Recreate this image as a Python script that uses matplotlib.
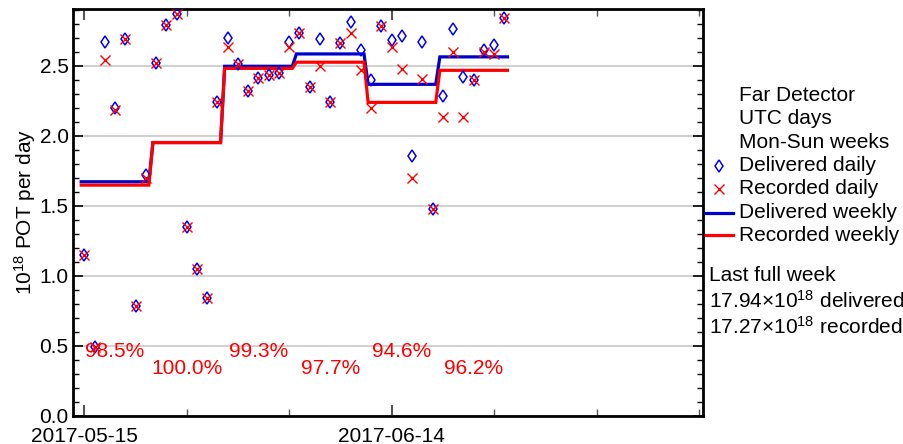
import numpy as np
import matplotlib
matplotlib.use("Agg")
import matplotlib.pyplot as plt
import matplotlib.dates as mdates
from matplotlib.lines import Line2D

plt.rcParams['font.family'] = ['Liberation Sans', 'DejaVu Sans']
plt.rcParams['mathtext.fontset'] = 'custom'
plt.rcParams['mathtext.rm'] = 'Liberation Sans'
plt.rcParams['mathtext.it'] = 'Liberation Sans:italic'
plt.rcParams['mathtext.bf'] = 'Liberation Sans:bold'

# ---- data ----
start_date = "2017-05-15"
end_date = "2017-06-26"   # exclusive
delivered_daily = [1.15, 0.49, 2.67, 2.20, 2.69, 0.78, 1.72,
                   2.52, 2.79, 2.87, 1.35, 1.05, 0.84, 2.24,
                   2.70, 2.51, 2.32, 2.41, 2.43, 2.45, 2.67,
                   2.73, 2.345, 2.69, 2.24, 2.66, 2.81, 2.61,
                   2.40, 2.78, 2.68, 2.71, 1.855, 2.67, 1.475,
                   2.28, 2.76, 2.42, 2.40, 2.61, 2.65, 2.84]
recorded_daily = [1.15, 0.49, 2.54, 2.18, 2.69, 0.78, 1.70,
                  2.52, 2.79, 2.87, 1.35, 1.05, 0.84, 2.24,
                  2.63, 2.51, 2.32, 2.41, 2.43, 2.45, 2.63,
                  2.73, 2.345, 2.50, 2.24, 2.66, 2.736, 2.47,
                  2.20, 2.78, 2.63, 2.475, 1.70, 2.405, 1.475,
                  2.136, 2.60, 2.136, 2.40, 2.60, 2.58, 2.84]
week_starts = ["2017-05-15", "2017-05-22", "2017-05-29",
               "2017-06-05", "2017-06-12", "2017-06-19"]
delivered_weekly = [1.671, 1.951, 2.496, 2.584, 2.367, 2.563]
recorded_weekly = [1.647, 1.951, 2.481, 2.525, 2.238, 2.467]
week_pct = ["98.5%", "100.0%", "99.3%", "97.7%", "94.6%", "96.2%"]
labelled_dates = ["2017-05-15", "2017-06-14"]
legend_title = ["Far Detector", "UTC days", "Mon-Sun weeks"]
summary = ["Last full week",
           r"17.94$\times$10$^{18}$ delivered",
           r"17.27$\times$10$^{18}$ recorded"]

BLUE_PT = '#0000ee'
BLUE_LN = '#0000cc'
RED = '#ff0000'
DIA_MS = 6.2
X_MS = 7.5

W, H = 904, 444
fig = plt.figure(figsize=(W / 100, H / 100), dpi=100)
ax_l, ax_r, ax_t, ax_b = 72.7, 703.0, 9.0, 415.7
ax = fig.add_axes([ax_l / W, 1 - ax_b / H, (ax_r - ax_l) / W, (ax_b - ax_t) / H])

def dnum(d):
    return mdates.date2num(np.datetime64(d, 's').astype(object))

days = np.arange(start_date, end_date, dtype='datetime64[D]')
xd = [dnum(str(d)) for d in days]
x0 = dnum(start_date)

# weekly step lines
def weekly_xy(vals):
    xs, ys = [], []
    for ws, v in zip(week_starts, vals):
        s = dnum(ws)
        xs += [s - 0.3, s + 6.3]
        ys += [v, v]
    return xs, ys

bx, by = weekly_xy(delivered_weekly)
rx, ry = weekly_xy(recorded_weekly)
ax.plot(bx, by, color=BLUE_LN, lw=2.3, zorder=3, solid_joinstyle='miter')
ax.plot(rx, ry, color=RED, lw=2.3, zorder=3.1, solid_joinstyle='miter')

ax.plot(xd, delivered_daily, linestyle='none', marker='d', ms=DIA_MS,
        mfc='none', mec=BLUE_PT, mew=1.1, zorder=4)
ax.plot(xd, recorded_daily, linestyle='none', marker='x', ms=X_MS,
        mec=RED, mew=1.0, zorder=5)

# weekly percentage labels
for i, (ws, p) in enumerate(zip(week_starts, week_pct)):
    s = dnum(ws)
    yb = 0.417 if i % 2 == 0 else 0.298
    ax.text(s + 3, yb, p, color=RED, fontsize=15, ha='center', va='baseline', zorder=6)

# axes
ax.set_ylim(0, 2.905)
ax.set_xlim(x0 - 1.13, x0 + 60.38)
ax.set_yticks(np.arange(0, 2.51, 0.5))
ax.set_yticklabels([f"{v:.1f}" for v in np.arange(0, 2.51, 0.5)])
ax.set_yticks(np.arange(0, 2.905, 0.1), minor=True)
ax.yaxis.grid(True, which='major', color='#c8c8c8', lw=1.2)
ax.set_axisbelow(True)

ax.set_xticks([dnum(d) for d in labelled_dates])
ax.set_xticklabels(labelled_dates)
ax.set_xticks([x0 + d for d in (10, 20, 40, 50, 60)], minor=True)

ax.tick_params(axis='y', which='both', direction='in', left=True, right=True,
               colors='black', labelsize=15, pad=3)
ax.tick_params(axis='y', which='major', length=7, width=1.2)
ax.tick_params(axis='y', which='minor', length=4, width=1)
ax.tick_params(axis='x', which='both', direction='in', bottom=True, top=True,
               color='#555555', labelcolor='black', labelsize=15, pad=8)
ax.tick_params(axis='x', which='major', length=8, width=1.5)
ax.tick_params(axis='x', which='minor', length=5, width=1)
for sp in ax.spines.values():
    sp.set_linewidth(2)
    sp.set_color('black')

fig.text(25 / W, 1 - 212 / H, r"10$^{18}$ POT per day", rotation=90,
         ha='center', va='center', fontsize=15)

# legend (manual)
def fy(y):
    return 1 - y / H

tx = 739 / W
for t, yb in zip(legend_title, [100.7, 124.1, 147.5]):
    fig.text(tx, fy(yb), t, fontsize=15, va='baseline', ha='left')
fig.text(tx, fy(170.9), "Delivered daily", fontsize=15, va='baseline')
fig.text(tx, fy(194.3), "Recorded daily", fontsize=15, va='baseline')
fig.text(tx, fy(217.7), "Delivered weekly", fontsize=15, va='baseline')
fig.text(tx, fy(241.1), "Recorded weekly", fontsize=15, va='baseline')
fig.add_artist(Line2D([719 / W], [fy(166)], marker='d', ms=DIA_MS, mfc='none',
                      mec=BLUE_PT, mew=1.1, linestyle='none'))
fig.add_artist(Line2D([719 / W], [fy(189.3)], marker='x', ms=X_MS,
                      mec=RED, mew=1.0, linestyle='none'))
fig.add_artist(Line2D([706 / W, 733 / W], [fy(212.7)] * 2, color=BLUE_LN, lw=2.3))
fig.add_artist(Line2D([706 / W, 733 / W], [fy(235.5)] * 2, color=RED, lw=2.3))

for t, yb in zip(summary, [280.7, 307.3, 334.0]):
    fig.text(709 / W, fy(yb), t, fontsize=15, va='baseline', ha='left')

fig.savefig("out.png", dpi=100)
